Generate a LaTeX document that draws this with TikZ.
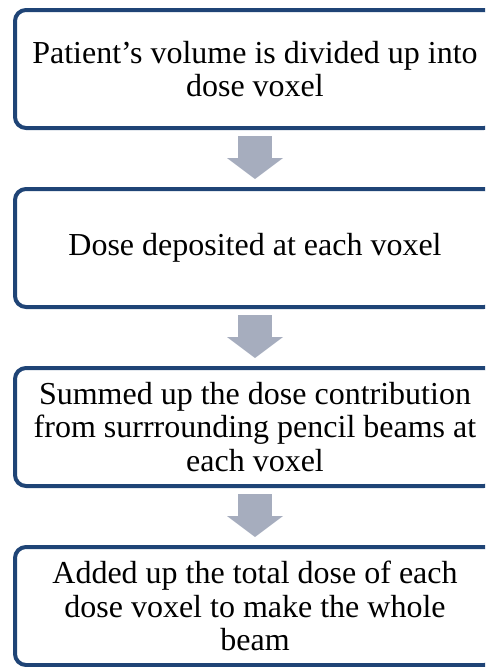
\documentclass[tikz,border=0pt]{standalone}
\usepackage{fontspec}
\setmainfont{Liberation Serif}
\usepackage{xcolor}
\usepackage{tikz}
\usetikzlibrary{arrows.meta,positioning}
\definecolor{boxblue}{HTML}{1F4476}
\definecolor{arrowgray}{HTML}{A6ADBE}

\begin{document}
\begin{tikzpicture}[
  node distance=57pt,
  stepbox/.style={draw=boxblue, line width=4pt, rounded corners=11pt, align=center,
    minimum width=480pt, minimum height=118pt, inner sep=0pt,
    font=\fontsize{32}{33.5}\selectfont},
  flow/.style={arrowgray, line width=34pt, shorten <=6pt, shorten >=8pt,
    -{Triangle[width=56pt, length=21pt, line width=0pt]}}
]
\useasboundingbox (0,0) rectangle (485pt,-667pt);
\clip (0,0) rectangle (485pt,-667pt);
\node[stepbox] (volume) at (255pt,-69pt) {Patient’s volume is divided up into\\dose voxel};
\node[stepbox, below=of volume] (deposit) {Dose deposited at each voxel};
\node[stepbox, below=of deposit] (summed) {Summed up the dose contribution\\from surrrounding pencil beams at\\each voxel};
\node[stepbox, below=of summed] (total) {Added up the total dose of each\\dose voxel to make the whole\\beam};

\draw[flow] (volume) -- (deposit);
\draw[flow] (deposit) -- (summed);
\draw[flow] (summed) -- (total);
\end{tikzpicture}
\end{document}
